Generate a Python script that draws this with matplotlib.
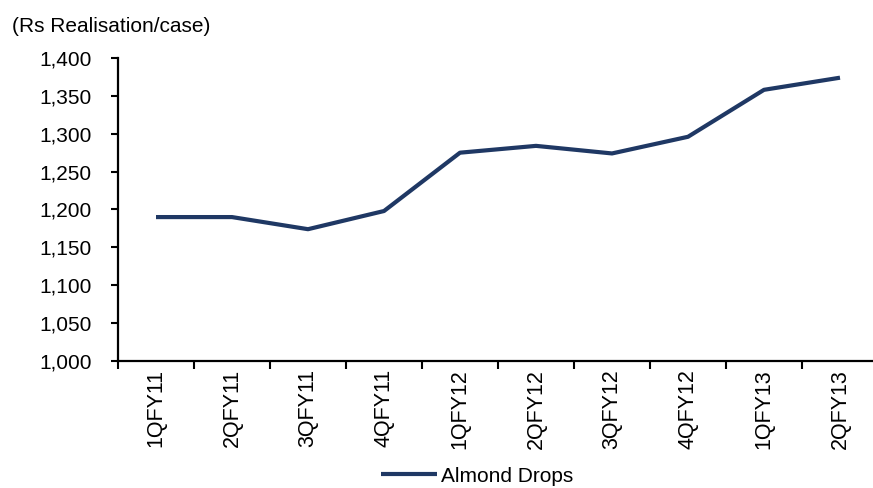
import matplotlib
matplotlib.use("Agg")
import matplotlib.pyplot as plt
import numpy as np

plt.rcParams['font.family'] = ['Liberation Sans Narrow', 'Liberation Sans', 'DejaVu Sans']

quarters = ['1QFY11', '2QFY11', '3QFY11', '4QFY11', '1QFY12',
            '2QFY12', '3QFY12', '4QFY12', '1QFY13', '2QFY13']
almond_drops = [1190, 1190, 1174, 1198, 1275, 1284, 1274, 1296, 1358, 1374]

navy = '#1F3864'

fig = plt.figure(figsize=(8.73, 4.88), dpi=100)
ax = fig.add_axes([118 / 873, 127 / 488, 760 / 873, 303 / 488])

x = np.arange(len(quarters))
ax.plot(x, almond_drops, color=navy, linewidth=3, label='Almond Drops',
        solid_capstyle='butt')

ax.set_ylim(1000, 1400)
ax.set_yticks(np.arange(1000, 1401, 50))
ax.set_yticklabels([f'{v:,}' for v in range(1000, 1401, 50)], fontsize=15)
ax.set_xlim(-0.5, len(quarters) - 0.5)

# ticks at the category boundaries, labels at the centres
ax.set_xticks(np.arange(-0.5, len(quarters), 1.0))
ax.set_xticklabels([])
ax.set_xticks(x, minor=True)
ax.set_xticklabels(quarters, minor=True, rotation=90, fontsize=15.5)
ax.tick_params(axis='x', which='minor', length=0, pad=6)
ax.tick_params(axis='x', which='major', length=6, width=1.5, direction='out')
ax.tick_params(axis='y', length=5, width=1.5, direction='out', pad=14)

for s in ['top', 'right']:
    ax.spines[s].set_visible(False)
for s in ['left', 'bottom']:
    ax.spines[s].set_linewidth(1.6)

fig.text(12 / 873, 1 - 26 / 488, '(Rs Realisation/case)', fontsize=15,
         ha='left', va='center')

fig.legend(loc='center', bbox_to_anchor=(477 / 873, 1 - 476 / 488),
           frameon=False, fontsize=15, handlelength=2.7, handletextpad=0.2,
           borderaxespad=0)

fig.savefig('out.png', dpi=100)
